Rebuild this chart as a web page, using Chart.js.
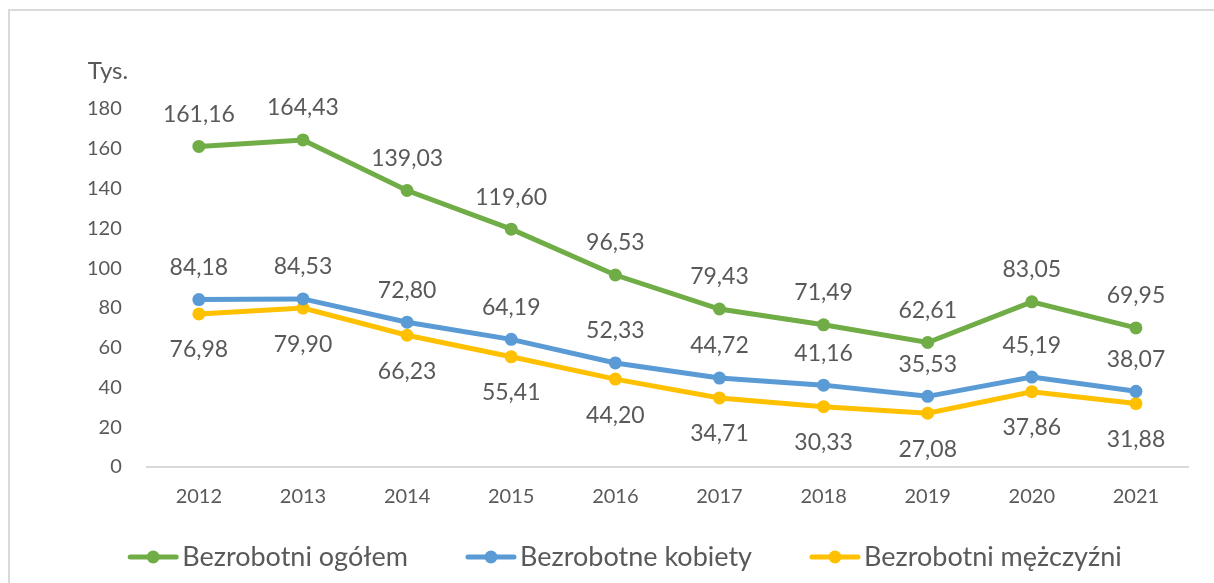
<!DOCTYPE html>
<html>
<head>
<meta charset="utf-8">
<script src="https://cdn.jsdelivr.net/npm/chart.js@4.4.1/dist/chart.umd.min.js"></script>
<style>
html,body{margin:0;padding:0;background:#fff;overflow:hidden;}
#wrap{position:absolute;left:0;top:0;width:1214px;height:583px;}
#frame{position:absolute;left:8px;top:9px;width:1300px;height:700px;border:2px solid #D9D9D9;box-sizing:border-box;pointer-events:none;}
</style>
</head>
<body>
<div id="wrap"><canvas id="c" width="1214" height="583"></canvas></div>
<div id="frame"></div>
<script>
const years = ['2012','2013','2014','2015','2016','2017','2018','2019','2020','2021'];
const ogolem = [161.16,164.43,139.03,119.60,96.53,79.43,71.49,62.61,83.05,69.95];
const kobiety = [84.18,84.53,72.80,64.19,52.33,44.72,41.16,35.53,45.19,38.07];
const mezczyzni = [76.98,79.90,66.23,55.41,44.20,34.71,30.33,27.08,37.86,31.88];
const seriesNames = ['Bezrobotni ogółem','Bezrobotne kobiety','Bezrobotni mężczyźni'];
const yTicks = [0,20,40,60,80,100,120,140,160,180];
const unitLabel = 'Tys.';

const colors = ['#70AD47','#5B9BD5','#FFC000'];
const labelPos = ['above','above','below'];
const FONT = 'Lato';
const TXT = '#595959';

const dataLabelPlugin = {
  id:'dataLabels',
  afterDatasetsDraw(chart){
    const ctx = chart.ctx;
    ctx.save();
    ctx.font = '23px ' + FONT;
    ctx.fillStyle = TXT;
    ctx.textAlign = 'center';
    ctx.textBaseline = 'middle';
    chart.data.datasets.forEach((ds,i)=>{
      const meta = chart.getDatasetMeta(i);
      meta.data.forEach((pt,j)=>{
        const v = ds.data[j];
        const txt = v.toFixed(2).replace('.',',');
        const dy = labelPos[i]==='above' ? -32 : 36;
        ctx.fillText(txt, pt.x, pt.y + dy);
      });
    });
    ctx.restore();
  }
};

const unitPlugin = {
  id:'unit',
  afterDraw(chart){
    const ctx = chart.ctx; const y = chart.scales.y;
    ctx.save();
    ctx.font = '24px ' + FONT;
    ctx.fillStyle = TXT;
    ctx.textAlign = 'left';
    ctx.textBaseline = 'middle';
    ctx.fillText(unitLabel, y.right - 59, y.top - 38);
    ctx.restore();
  }
};

const legendPlugin = {
  id:'customLegend',
  afterDraw(chart){
    const ctx = chart.ctx;
    ctx.save();
    ctx.font = '27px ' + FONT;
    ctx.textBaseline = 'middle';
    ctx.textAlign = 'left';
    const iconW = 50, gapT = 4, gapI = 58;
    const items = chart.data.datasets.map(ds=>({ds, w: ctx.measureText(ds.label).width}));
    const total = items.reduce((s,it)=>s+iconW+gapT+it.w,0) + gapI*(items.length-1);
    let x = 625 - total/2;
    const yc = 557;
    items.forEach(it=>{
      const c = it.ds.borderColor;
      ctx.strokeStyle = c; ctx.lineWidth = 5; ctx.lineCap = 'round';
      ctx.beginPath(); ctx.moveTo(x+2, yc); ctx.lineTo(x+iconW-2, yc); ctx.stroke();
      ctx.fillStyle = c; ctx.beginPath(); ctx.arc(x+iconW/2, yc, 6.5, 0, Math.PI*2); ctx.fill();
      x += iconW + gapT;
      ctx.fillStyle = TXT;
      ctx.fillText(it.ds.label, x, yc);
      x += it.w + gapI;
    });
    ctx.restore();
  }
};

const datasets = [ogolem,kobiety,mezczyzni].map((d,i)=>({
  label: seriesNames[i],
  data: d,
  borderColor: colors[i],
  backgroundColor: colors[i],
  borderWidth: 5,
  pointRadius: 6.5,
  pointHoverRadius: 6.5,
  pointBorderWidth: 0,
  pointStyle: 'circle',
  tension: 0
}));

new Chart(document.getElementById('c'),{
  type:'line',
  data:{labels:years, datasets},
  options:{
    responsive:false,
    animation:false,
    events:[],
    layout:{padding:{top:109,left:62,right:26,bottom:56}},
    scales:{
      x:{
        offset:true,
        grid:{display:false, drawTicks:false},
        border:{display:true,color:'#D9D9D9',width:2},
        ticks:{font:{family:FONT,size:20},color:TXT,padding:18}
      },
      y:{
        min:0,max:180,
        afterBuildTicks(s){ s.ticks = yTicks.map(v=>({value:v})); },
        grid:{display:false, drawTicks:false},
        border:{display:false},
        ticks:{font:{family:FONT,size:20},color:TXT,padding:25}
      }
    },
    plugins:{
      legend:{display:false},
      tooltip:{enabled:false}
    }
  },
  plugins:[dataLabelPlugin, unitPlugin, legendPlugin]
});
</script>
</body>
</html>
